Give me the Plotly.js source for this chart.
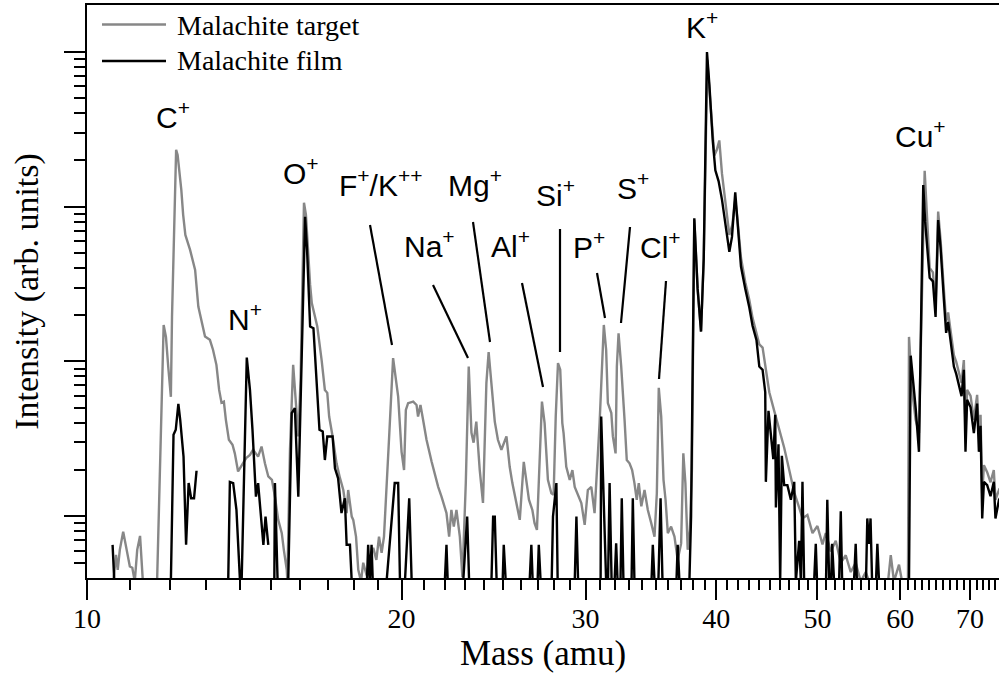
<!DOCTYPE html>
<html><head><meta charset="utf-8">
<script src="https://cdn.plot.ly/plotly-3.0.1.min.js"></script>
<style>html,body{margin:0;padding:0;background:#fff;overflow:hidden}#chart{width:999px;height:677px}</style>
</head><body><div id="chart"></div>
<script>
// ---------- DATA (mass in amu, intensity in arb. units; 3.8 = at/below the axis floor) ----------
const targetMass = [
10.60,10.66,10.70,10.75,10.83,10.91,10.99,11.05,11.11,11.17,
11.24,11.31,11.67,11.84,11.90,11.96,12.03,12.06,12.10,12.13,
12.17,12.21,12.25,12.31,12.36,12.42,12.55,12.69,12.78,12.89,
12.97,13.11,13.20,13.30,13.38,13.45,13.52,13.58,13.67,13.78,
13.85,13.95,14.07,14.20,14.32,14.42,14.58,14.69,14.80,14.91,
15.03,15.13,15.24,15.36,15.43,15.53,15.55,15.64,15.75,15.85,
15.93,16.01,16.06,16.13,16.20,16.27,16.35,16.41,16.61,16.77,
16.89,16.98,17.05,17.18,17.33,17.46,17.59,17.72,17.78,17.92,
17.98,18.09,18.18,18.29,18.38,18.52,18.65,18.79,18.92,19.03,
19.14,19.24,19.35,19.46,19.63,19.85,20.00,20.11,20.19,20.29,
20.52,20.67,20.74,20.85,20.97,21.13,21.37,21.52,21.68,21.84,
22.08,22.21,22.32,22.44,22.57,22.74,22.87,23.04,23.19,23.33,
23.44,23.58,23.76,23.93,24.11,24.23,24.38,24.56,24.73,24.92,
25.20,25.38,25.53,25.75,25.95,26.18,26.33,26.48,26.68,26.81,
26.95,27.11,27.25,27.41,27.61,27.82,27.96,28.09,28.23,28.37,
28.50,28.58,28.75,28.97,29.14,29.29,29.50,29.72,29.94,30.15,
30.38,30.60,30.94,31.12,31.23,31.39,31.51,31.75,31.86,32.05,
32.14,32.26,32.45,32.69,32.85,33.05,33.24,33.41,33.58,33.73,
33.92,34.16,34.41,34.67,34.92,35.10,35.25,35.44,35.62,35.78,
35.96,36.22,36.49,36.75,37.03,37.21,37.38,37.57,37.75,37.92,
38.12,38.40,38.69,38.92,39.23,39.41,39.70,39.84,40.06,40.28,
40.52,40.87,41.18,41.45,41.72,41.93,42.25,42.65,43.03,43.34,
43.72,43.99,44.31,44.64,44.97,45.46,45.96,46.47,46.99,47.51,
48.03,48.38,48.91,49.46,50.00,50.56,50.93,51.50,52.06,52.64,
53.22,53.81,54.40,55.01,55.62,56.03,58.42,58.77,59.19,59.85,
60.25,61.04,61.18,61.63,62.08,62.54,63.33,63.68,64.03,64.49,
64.87,65.24,65.59,66.07,66.40,66.69,67.06,67.54,67.89,68.29,
68.69,69.04,69.29,69.54,70.07,70.58,71.09,71.37,71.63,71.89,
72.16,72.68,73.22,73.75,74.02,74.60,75.2
];
const targetIntensity = [
3.8,5.64,4.52,6.08,7.97,6.08,4.75,4.66,3.8,6.08,
7.48,3.8,3.8,172,144,92.4,59.1,194,525,1282,
2323,2155,1778,1282,884,656,525,390,226,172,
145,138,119,95.1,65.5,54.1,55.1,42.0,31.2,29.0,
25.5,19.5,21.4,23.8,24.9,26.9,24.3,28.2,22.0,18.1,
17.2,13.4,9.49,7.79,6.08,4.52,3.8,26.9,95.1,56.5,
32.8,76.0,290,1057,884,488,312,238,168,102,
65.5,62.7,44.1,32.8,22.0,17.7,14.8,10.5,14.8,9.96,
9.49,7.40,4.52,3.8,5.02,4.16,5.40,6.26,5.24,7.40,
5.82,7.40,14.8,32.8,105,59.3,26.1,19.9,48.7,53.8,
55.1,52.4,44.1,52.4,42.0,31.2,22.5,18.5,15.5,13.4,
10.5,7.40,11.0,8.59,11.0,7.40,4.05,16.4,92.7,34.6,
29.9,40.9,19.9,12.2,72.4,115,72.4,40.9,31.2,26.9,
32.8,20.9,16.4,12.2,9.49,22.5,17.2,12.8,11.0,9.04,
8.18,26.9,55.1,40.0,17.2,14.1,13.8,44.1,97.6,88.3,
40.0,34.5,20.9,17.2,19.9,15.5,13.8,12.2,8.81,14.8,
15.5,10.5,40.0,119,172,119,53.8,46.4,32.8,25.5,
92.7,152,92.7,42.0,23.1,22.0,19.9,16.4,12.8,16.4,
11.6,14.8,11.0,9.04,7.40,14.1,67.5,44.1,17.2,12.8,
7.79,8.59,7.40,5.24,6.69,25.5,16.4,6.08,8.18,19.9,
821,294,156,460,8850,5665,2695,2137,2323,2670,
1625,996,656,761,1105,821,467,325,250,191,
155,129,123,88.3,63.3,48.0,36.4,27.7,19.9,14.3,
11.4,9.7,10.2,7.79,8.67,6.60,7.79,5.93,6.95,5.02,
5.61,4.37,5.02,3.8,4.37,3.8,3.8,5.61,3.8,4.88,
3.8,3.8,144,63.3,42.0,34.5,1700,887,402,376,
228,928,609,290,181,207,160,110,99.4,85.1,
72.7,102,36.2,65.5,60.0,42.0,60.9,33.6,45.2,13.8,
21.4,19.3,16.6,19.9,12.8,14.8,14
];
const filmMass = [
10.58,10.62,12.03,12.10,12.16,12.23,12.28,12.37,12.44,12.51,
12.58,12.66,12.73,12.75,13.65,13.70,13.80,13.90,14.01,14.06,
14.22,14.32,14.40,14.51,14.58,14.66,14.75,14.82,14.91,14.95,
15.11,15.13,15.22,15.58,15.70,15.81,15.93,16.05,16.17,16.24,
16.35,16.47,16.57,16.69,16.81,16.89,16.98,17.18,17.27,17.39,
17.52,17.65,17.72,17.85,17.92,18.53,18.58,18.65,18.72,18.77,
19.35,19.49,19.70,19.85,19.93,20.15,20.22,20.34,20.45,22.00,
22.08,22.14,22.91,23.11,23.21,24.38,24.47,24.56,24.66,24.99,
25.05,25.16,26.52,26.62,26.70,26.99,27.06,27.17,27.84,27.92,
28.13,28.21,29.29,29.40,29.51,31.01,31.05,31.39,31.52,31.63,
31.77,31.98,32.09,32.19,32.40,32.49,32.61,33.20,33.29,33.41,
34.69,34.79,34.92,35.22,35.39,35.54,36.65,36.75,36.89,37.71,
37.85,38.12,38.40,38.69,38.92,39.20,39.41,39.70,39.93,40.22,
40.52,40.87,41.18,41.42,41.72,41.93,42.25,42.65,43.03,43.34,
43.72,43.99,44.31,44.57,44.63,44.89,45.14,45.37,45.56,45.63,
45.89,46.06,46.23,46.47,46.80,47.16,47.51,47.68,48.03,48.21,
48.38,48.56,49.64,49.82,49.96,50.96,51.10,51.31,51.54,51.65,
51.87,52.45,52.64,52.80,54.20,54.40,54.55,55.65,55.81,56.03,
56.21,56.40,56.89,57.06,57.27,61.18,61.41,62.08,62.54,63.13,
63.40,64.03,64.49,64.87,65.24,65.59,66.07,66.40,66.69,67.06,
67.54,67.89,68.29,68.69,69.04,69.29,69.54,70.07,70.58,71.09,
71.37,71.63,71.89,72.16,72.68,73.22,73.75,74.02,74.60,75.2
];
const filmIntensity = [
6.55,3.8,3.8,33.6,36.2,53.2,42.0,24.3,6.55,16.4,
13.1,13.1,19.7,null,3.8,16.7,16.4,11.0,3.8,3.8,
106,65.5,36.2,13.4,16.4,11.0,6.55,9.96,6.55,null,
3.8,16.4,3.8,3.8,46.4,50.0,13.4,119,859,525,
168,164,84.0,36.2,35.3,23.1,32.8,32.8,20.4,17.6,
10.5,13.1,6.55,6.55,3.8,3.8,6.55,3.8,6.55,3.8,
3.8,6.69,16.4,16.4,3.8,3.8,6.55,13.1,3.8,3.8,
6.55,3.8,3.8,9.96,3.8,3.8,9.96,9.96,3.8,3.8,
6.55,3.8,3.8,6.55,3.8,3.8,6.55,3.8,3.8,9.96,
16.4,3.8,3.8,9.96,3.8,3.8,44.1,3.8,3.8,16.4,
3.8,3.8,6.69,3.8,3.8,13.1,3.8,3.8,13.1,3.8,
3.8,6.55,3.8,3.8,13.1,3.8,3.8,6.55,3.8,3.8,
9.96,839,294,156,460,9950,6100,2670,1715,1454,
1105,710,510,637,1234,797,410,295,224,170,
137,92.7,88.3,63.3,16.7,48.0,34.6,23.4,45.3,11.4,
29.2,3.8,24.6,15.9,15.9,12.8,16.7,3.8,6.95,3.8,
16.7,3.8,3.8,6.65,3.8,3.8,12.8,3.8,3.8,6.65,
3.8,3.8,10.8,3.8,3.8,6.65,3.8,3.8,9.7,6.65,
9.7,3.8,3.8,6.65,3.8,3.8,109,50.6,26.1,1377,
796,347,329,194,817,541,250,153,180,136,
92.7,83.1,70.5,59.7,88.3,26.1,56.5,50.6,34.5,53.5,
26.1,38.4,9.7,16.7,15.9,13.5,16.7,9.7,12.8,14
];
const seriesNames = ['Malachite target', 'Malachite film'];
const xTickValues = [10, 20, 30, 40, 50, 60, 70];
const xTickLabels = ['10', '20', '30', '40', '50', '60', '70'];
const xMinorTicks = [11,12,13,14,15,16,17,18,19,21,22,23,24,25,26,27,28,29,31,32,33,34,35,36,37,38,39,
  41,42,43,44,45,46,47,48,49,51,52,53,54,55,56,57,58,59,61,62,63,64,65,66,67,68,69,71,72,73,74];
const yTickValues = [10, 100, 1000, 10000];
const yMinorTicks = [5,6,7,8,9,20,30,40,50,60,70,80,90,200,300,400,500,600,700,800,900,
  2000,3000,4000,5000,6000,7000,8000,9000];
const peakLabels = ['C<sup>+</sup>','N<sup>+</sup>','O<sup>+</sup>','F<sup>+</sup>/K<sup>++</sup>',
  'Na<sup>+</sup>','Mg<sup>+</sup>','Al<sup>+</sup>','Si<sup>+</sup>','P<sup>+</sup>','S<sup>+</sup>',
  'Cl<sup>+</sup>','K<sup>+</sup>','Cu<sup>+</sup>'];

// ---------- LAYOUT / STYLE ----------
const W = 999, H = 677, ML = 87, MT = 5, MB = 99;
const PW = W - ML, PH = H - MT - MB;
const X = px => (px - ML) / PW;          // pixel -> paper
const Y = py => (MT + PH - py) / PH;

// label positions (pixel x centre, pixel y centre)
const labelPos = [[172.5,115],[245,317],[300.5,171],[380,183],[429.5,244],[475,183],[510,244],
  [555.5,193],[588.5,245],[633,186],[660,245],[702,25],[920.5,134]];
// pointer lines (pixel)
const pointers = [[370,225,392,345],[433,285,468,358],[473,222,490,342],[522,283,543,387],
  [560,229,560,352],[597,273,605,318],[630,227,621,323],[666,281,659,379]];

const serif = 'Liberation Serif, Times New Roman, serif';
const sans = 'Liberation Sans, Arial, sans-serif';

const traces = [
  {x: targetMass, y: targetIntensity, type: 'scatter', mode: 'lines', name: seriesNames[0],
   line: {color: '#878787', width: 2.4}, connectgaps: false, showlegend: false},
  {x: filmMass, y: filmIntensity, type: 'scatter', mode: 'lines', name: seriesNames[1],
   line: {color: '#000000', width: 2.4}, connectgaps: false, showlegend: false}
];

const annotations = peakLabels.map((t, i) => ({
  text: t, xref: 'paper', yref: 'paper', x: X(labelPos[i][0]), y: Y(labelPos[i][1]),
  xanchor: 'center', yanchor: 'middle', showarrow: false,
  font: {family: sans, size: 30, color: '#000'}
}));
annotations.push(
  {text: seriesNames[0], xref: 'paper', yref: 'paper', x: X(175), y: Y(25), xanchor: 'left', yanchor: 'middle',
   showarrow: false, font: {family: serif, size: 28, color: '#000'}},
  {text: seriesNames[1], xref: 'paper', yref: 'paper', x: X(175), y: Y(61), xanchor: 'left', yanchor: 'middle',
   showarrow: false, font: {family: serif, size: 28, color: '#000'}}
);

const shapes = pointers.map(p => ({
  type: 'line', xref: 'paper', yref: 'paper', x0: X(p[0]), y0: Y(p[1]), x1: X(p[2]), y1: Y(p[3]),
  line: {color: '#000', width: 2.2}
}));
shapes.push(
  {type: 'line', xref: 'paper', yref: 'paper', x0: X(102), x1: X(166), y0: Y(24.5), y1: Y(24.5), line: {color: '#878787', width: 2.5}},
  {type: 'line', xref: 'paper', yref: 'paper', x0: X(102), x1: X(166), y0: Y(61), y1: Y(61), line: {color: '#000', width: 2.5}}
);

const layout = {
  width: W, height: H,
  margin: {l: ML, r: 0, t: MT, b: MB, pad: 0},
  paper_bgcolor: '#fff', plot_bgcolor: '#fff',
  showlegend: false,
  xaxis: {
    type: 'log', range: [1, Math.log10(74.6)], autorange: false,
    tickmode: 'array', tickvals: xTickValues, ticktext: xTickLabels,
    ticks: 'outside', ticklen: 20, tickwidth: 2, tickcolor: '#000',
    ticklabelstandoff: -6,
    minor: {tickmode: 'array', tickvals: xMinorTicks, ticks: 'outside', ticklen: 10, tickwidth: 2, tickcolor: '#000', showgrid: false},
    showline: true, linecolor: '#000', linewidth: 2, mirror: true,
    showgrid: false, zeroline: false,
    tickfont: {family: serif, size: 28, color: '#000'},
    title: {text: 'Mass (amu)', font: {family: serif, size: 35, color: '#000'}, standoff: 6}
  },
  yaxis: {
    type: 'log', range: [Math.log10(4), Math.log10(20000)], autorange: false,
    tickmode: 'array', tickvals: yTickValues, showticklabels: false,
    ticks: 'outside', ticklen: 21, tickwidth: 2, tickcolor: '#000',
    minor: {tickmode: 'array', tickvals: yMinorTicks, ticks: 'outside', ticklen: 11, tickwidth: 2, tickcolor: '#000', showgrid: false},
    showline: true, linecolor: '#000', linewidth: 2, mirror: false,
    showgrid: false, zeroline: false,
    title: {text: 'Intensity (arb. units)', font: {family: serif, size: 34, color: '#000'}, standoff: 15}
  },
  annotations: annotations,
  shapes: shapes
};

Plotly.newPlot('chart', traces, layout, {displayModeBar: false, staticPlot: true});
</script>
</body></html>
